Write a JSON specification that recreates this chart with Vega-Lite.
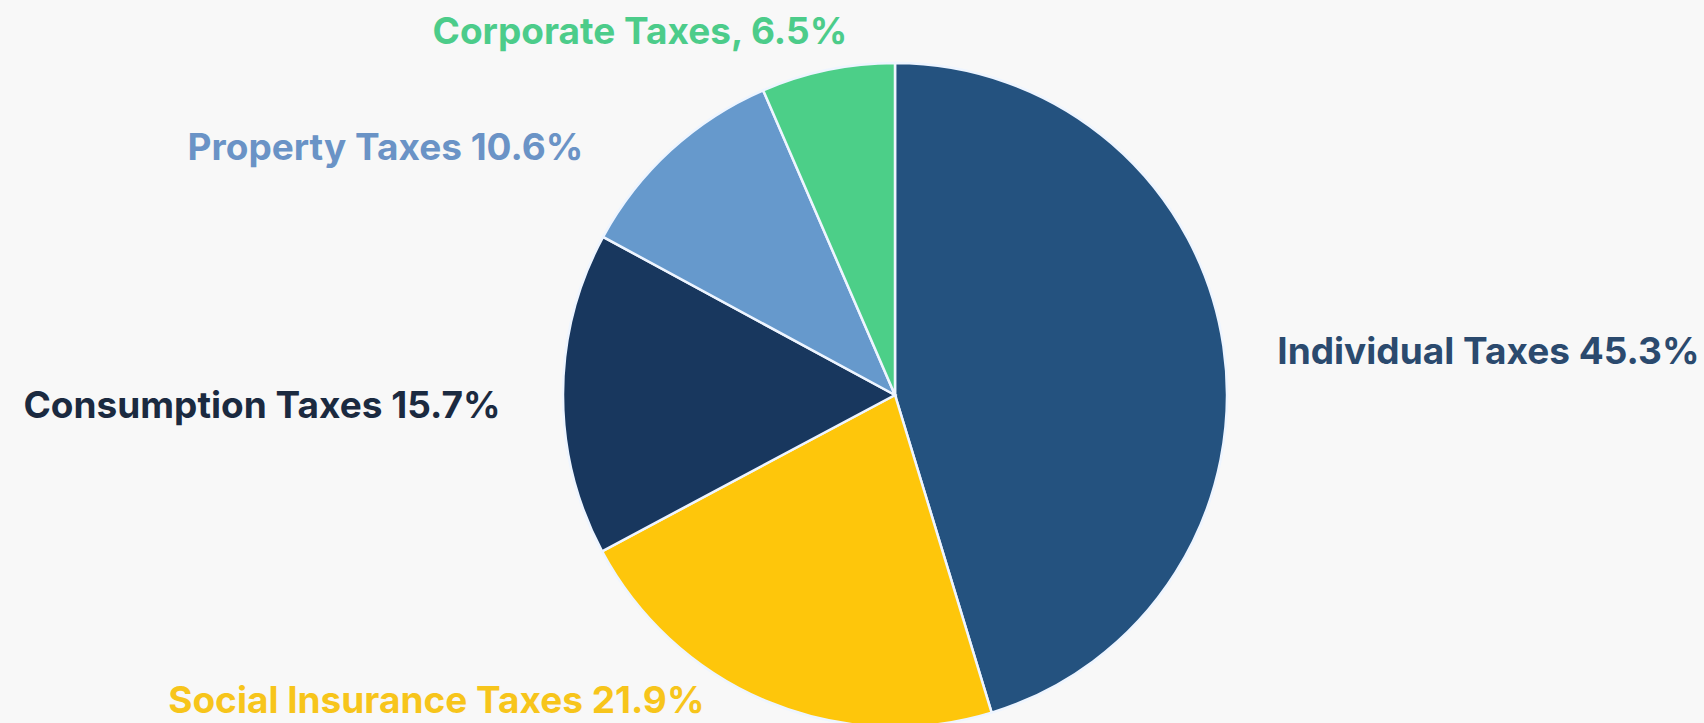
{
  "$schema": "https://vega.github.io/schema/vega-lite/v6.json",
  "autosize": {"type": "none"},
  "width": 1618,
  "height": 656,
  "padding": {"left": 86, "top": 67, "right": 0, "bottom": 0},
  "background": "#f8f8f8",
  "config": {"view": {"stroke": null}},
  "data": {
    "values": [
      {"idx": 1, "category": "Individual Taxes", "value": 45.3, "label": "Individual Taxes 45.3%"},
      {"idx": 2, "category": "Social Insurance Taxes", "value": 21.9, "label": "Social Insurance Taxes 21.9%"},
      {"idx": 3, "category": "Consumption Taxes", "value": 15.7, "label": "Consumption Taxes 15.7%"},
      {"idx": 4, "category": "Property Taxes", "value": 10.6, "label": "Property Taxes 10.6%"},
      {"idx": 5, "category": "Corporate Taxes", "value": 6.5, "label": "Corporate Taxes, 6.5%"}
    ]
  },
  "encoding": {
    "theta": {"field": "value", "type": "quantitative", "stack": true},
    "order": {"field": "idx", "type": "quantitative", "sort": "ascending"}
  },
  "layer": [
    {
      "mark": {"type": "arc", "radius": 332, "stroke": "#eef5ff", "strokeWidth": 2.5},
      "encoding": {
        "color": {
          "field": "category",
          "type": "nominal",
          "scale": {
            "domain": ["Individual Taxes", "Social Insurance Taxes", "Consumption Taxes", "Property Taxes", "Corporate Taxes"],
            "range": ["#24527f", "#fec60b", "#18375e", "#6699cc", "#4ccf88"]
          },
          "legend": null
        }
      }
    },
    {
      "mark": {"type": "text", "radius": 331, "font": "Inter", "fontWeight": "bold", "fontSize": 37, "align": "center", "baseline": "alphabetic", "dx": 266, "dy": 18, "color": "#2b4a6e"},
      "encoding": {"text": {"condition": {"test": "datum.idx === 1", "field": "label"}, "value": ""}}
    },
    {
      "mark": {"type": "text", "radius": 331, "font": "Inter", "fontWeight": "bold", "fontSize": 37, "align": "center", "baseline": "alphabetic", "dx": -332, "dy": 12, "color": "#f7c51b"},
      "encoding": {"text": {"condition": {"test": "datum.idx === 2", "field": "label"}, "value": ""}}
    },
    {
      "mark": {"type": "text", "radius": 331, "font": "Inter", "fontWeight": "bold", "fontSize": 37, "align": "center", "baseline": "alphabetic", "dx": -302, "dy": 24, "color": "#1b2a40"},
      "encoding": {"text": {"condition": {"test": "datum.idx === 3", "field": "label"}, "value": ""}}
    },
    {
      "mark": {"type": "text", "radius": 331, "font": "Inter", "fontWeight": "bold", "fontSize": 37, "align": "center", "baseline": "alphabetic", "dx": -286, "dy": 9, "color": "#6a93c6"},
      "encoding": {"text": {"condition": {"test": "datum.idx === 4", "field": "label"}, "value": ""}}
    },
    {
      "mark": {"type": "text", "radius": 331, "font": "Inter", "fontWeight": "bold", "fontSize": 37, "align": "center", "baseline": "alphabetic", "dx": -188, "dy": -27, "color": "#4ccc8a"},
      "encoding": {"text": {"condition": {"test": "datum.idx === 5", "field": "label"}, "value": ""}}
    }
  ]
}
